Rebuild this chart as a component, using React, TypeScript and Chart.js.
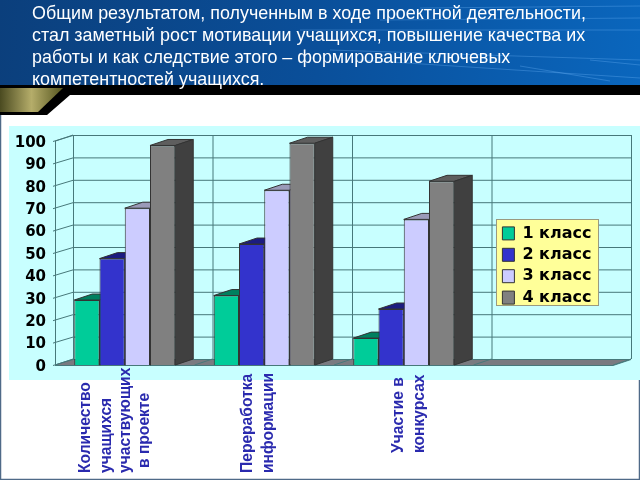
import React, { useEffect, useRef } from "react";
import { Chart, registerables } from "chart.js";

Chart.register(...registerables);

const headingLines = [
  "Общим результатом, полученным в ходе проектной деятельности,",
  "стал заметный рост мотивации учащихся, повышение качества их",
  "работы и как следствие этого – формирование ключевых",
  "компетентностей учащихся.",
];
const categories = [
  ["Количество", "учащихся", "участвующих", "в проекте"],
  ["Переработка", "информации"],
  ["Участие в", "конкурсах"],
  [""],
];
const seriesNames = ["1 класс", "2 класс", "3 класс", "4 класс"];
const class1 = [29, 31, 12, null];
const class2 = [47.5, 54, 25, null];
const class3 = [70, 78, 65, null];
const class4 = [98, 99, 82, null];

const front = ["#00cc99", "#3333cc", "#ccccff", "#808080"];
const topFace = ["#00805f", "#1c1c80", "#9a9ab8", "#5e5e5e"];
const sideFace = ["#00805f", "#1c1c80", "#8f8fb0", "#404040"];
const GRID = "#47787a";
const WALL = "#c8ffff";
const DX = 18;
const DY = 6;

// rotated axis text: [x offset from category centre, baseline start y] per line
const labelPlacement = [
  [[-39.5, 473], [-18, 473], [0.5, 473], [19.5, 468]],
  [[-17, 473], [4, 473]],
  [[-5.5, 453], [15.5, 453]],
  [[0, 473]],
];

function poly(ctx: CanvasRenderingContext2D, pts: number[][], fill?: any, stroke?: string) {
  ctx.beginPath();
  pts.forEach((p, i) => (i ? ctx.lineTo(p[0], p[1]) : ctx.moveTo(p[0], p[1])));
  ctx.closePath();
  if (fill) { ctx.fillStyle = fill; ctx.fill(); }
  if (stroke) { ctx.strokeStyle = stroke; ctx.lineWidth = 1; ctx.stroke(); }
}

const scenery = {
  id: "scenery",
  afterLayout(chart: any) {
    const t = chart.titleBlock;
    t.left = 32; t.right = 32 + t.width;
    const l = chart.legend;
    const w = 102, h = 200;
    l.left = 497; l.right = 497 + w; l.top = 220; l.bottom = 220 + h; l.width = w; l.height = h;
    // tick numerals sit slightly below their gridline in the reference
    const ys = chart.scales.y;
    if (!ys.__shifted) {
      ys.__shifted = true;
      const original = ys.drawLabels;
      ys.drawLabels = function (area: any) {
        chart.ctx.save();
        chart.ctx.translate(0, 2);
        original.call(ys, area);
        chart.ctx.restore();
      };
    }
  },
  beforeDraw(chart: any) {
    const { ctx, chartArea: a, scales } = chart;
    const W = 640, H = 480;
    ctx.save();
    ctx.fillStyle = "#ffffff";
    ctx.fillRect(0, 0, W, H);
    // banner
    const g = ctx.createLinearGradient(0, 0, W, 40);
    g.addColorStop(0, "#0b3f7c");
    g.addColorStop(0.5, "#0a4f9a");
    g.addColorStop(1, "#0a66bd");
    ctx.fillStyle = g;
    ctx.fillRect(0, 0, W, 86);
    ctx.strokeStyle = "rgba(120,190,255,0.3)";
    ctx.lineWidth = 1;
    [[300, 30, 640, 30], [330, 50, 640, 60], [360, 60, 640, 78], [420, 8, 640, 6], [380, 20, 640, 18], [520, 66, 610, 81], [590, 60, 640, 65]].forEach(([a1, b1, a2, b2]) => {
      ctx.beginPath(); ctx.moveTo(a1, b1); ctx.lineTo(a2, b2); ctx.stroke();
    });
    poly(ctx, [[0, 85], [640, 85], [640, 95], [70, 95], [47, 115], [0, 115]], "#000000");
    const gold = ctx.createLinearGradient(0, 0, 63, 0);
    gold.addColorStop(0, "#4a4a20");
    gold.addColorStop(0.5, "#b5ad6a");
    gold.addColorStop(1, "#55551f");
    poly(ctx, [[0, 88], [63, 88], [38, 112], [0, 112]], gold);
    // page frame
    ctx.strokeStyle = "#4f6a88";
    ctx.lineWidth = 1.5;
    ctx.beginPath();
    ctx.moveTo(0.5, 115); ctx.lineTo(0.5, 479.5); ctx.lineTo(639.5, 479.5); ctx.lineTo(639.5, 380);
    ctx.stroke();
    // panel
    ctx.fillStyle = WALL;
    ctx.fillRect(9, 126, 631, 254);

    // 3D box walls and grid
    const y = scales.y;
    const x0 = a.left, x1 = a.right, yb = y.getPixelForValue(0), yt = y.getPixelForValue(100);
    poly(ctx, [[x0, yb], [x1, yb], [x1 + DX, yb - DY], [x0 + DX, yb - DY]], "#7a7a80");
    y.ticks.forEach((tk: any) => {
      const p = y.getPixelForValue(tk.value);
      ctx.strokeStyle = GRID;
      ctx.lineWidth = 1;
      ctx.beginPath();
      ctx.moveTo(x0 - 2, p + 0.5);
      ctx.lineTo(x0 + DX, p - DY + 0.5);
      ctx.lineTo(x1 + DX, p - DY + 0.5);
      ctx.stroke();
    });
    const xs = scales.x;
    const catW = (x1 - x0) / categories.length;
    ctx.strokeStyle = GRID;
    for (let i = 0; i <= categories.length; i++) {
      const vx = i < categories.length ? xs.getPixelForValue(i) - catW / 2 : x1;
      ctx.beginPath();
      ctx.moveTo(vx + DX + 0.5, yb - DY);
      ctx.lineTo(vx + DX + 0.5, yt - DY);
      ctx.stroke();
      ctx.beginPath();
      ctx.moveTo(vx + DX, yb - DY);
      ctx.lineTo(vx, yb);
      ctx.stroke();
    }
    ctx.beginPath();
    ctx.moveTo(x0, yb + 0.5); ctx.lineTo(x1, yb + 0.5); ctx.lineTo(x1 + DX, yb - DY + 0.5);
    ctx.moveTo(x0 + 0.5, yb); ctx.lineTo(x0 + 0.5, yt);  ctx.lineTo(x0 + DX, yt - DY);
    ctx.stroke();
    // legend background
    ctx.fillStyle = "#ffff99";
    ctx.strokeStyle = "#9a9a80";
    ctx.fillRect(496, 219, 102, 86);
    ctx.strokeRect(496.5, 219.5, 102, 86);
    ctx.restore();
  },
  beforeDatasetsDraw(chart: any) {
    const { ctx } = chart;
    ctx.save();
    chart.data.datasets.forEach((_: any, di: number) => {
      chart.getDatasetMeta(di).data.forEach((b: any, i: number) => {
        if (chart.data.datasets[di].data[i] == null) return;
        const l = b.x - b.width / 2, r = b.x + b.width / 2;
        poly(ctx, [[l, b.y], [r, b.y], [r + DX, b.y - DY], [l + DX, b.y - DY]], topFace[di], "#333333");
        poly(ctx, [[r, b.y], [r + DX, b.y - DY], [r + DX, b.base - DY], [r, b.base]], sideFace[di], "#333333");
      });
    });
    ctx.restore();
  },
  afterDraw(chart: any) {
    const { ctx, scales } = chart;
    ctx.save();
    ctx.fillStyle = "#2a2aae";
    ctx.font = 'bold 15.6px "Liberation Sans", Arial, sans-serif';
    ctx.textAlign = "left";
    ctx.textBaseline = "middle";
    categories.forEach((lines, ci) => {
      const cx = scales.x.getPixelForValue(ci);
      lines.forEach((line, li) => {
        const [off, yy] = labelPlacement[ci][li];
        ctx.save();
        ctx.translate(cx + off, yy);
        ctx.rotate(-Math.PI / 2);
        ctx.fillText(line, 0, 0);
        ctx.restore();
      });
    });
    ctx.restore();
  },
};

export default function App() {
  const ref = useRef<HTMLCanvasElement>(null);
  useEffect(() => {
    const values = [class1, class2, class3, class4];
    const chart = new Chart(ref.current as HTMLCanvasElement, {
      type: "bar",
      data: {
        labels: categories as any,
        datasets: seriesNames.map((name, i) => ({
          label: name,
          data: values[i] as any,
          backgroundColor: front[i],
          borderColor: "#333333",
          borderWidth: 1,
          barPercentage: 1,
          categoryPercentage: 0.724,
        })),
      },
      options: {
        responsive: false,
        animation: false,
        devicePixelRatio: 1,
        layout: { padding: { left: 0, right: 27, bottom: 107, top: 0 } },
        scales: {
          x: {
            grid: { display: false },
            border: { display: false },
            ticks: { display: false },
          },
          y: {
            min: 0,
            max: 100,
            grid: { display: false },
            border: { display: false },
            afterFit: (s: any) => { s.width = 55; },
            ticks: {
              stepSize: 10,
              padding: 1,
              color: "#000000",
              font: { family: '"DejaVu Sans"', weight: "bold", size: 15 },
            },
          },
        },
        plugins: {
          tooltip: { enabled: false },
          title: {
            display: true,
            text: headingLines,
            align: "start",
            color: "#ffffff",
            padding: { top: 3.5, bottom: 49.5 },
            font: { family: '"Liberation Sans", Arial, sans-serif', size: 17.9, weight: "normal", lineHeight: 22 / 17.9 },
          },
          legend: {
            position: "chartArea",
            align: "start",
            labels: {
              boxWidth: 12,
              boxHeight: 13,
              padding: 5.4,
              color: "#000000",
              font: { family: '"DejaVu Sans"', weight: "bold", size: 16 },
            },
          },
        },
      },
      plugins: [scenery],
    } as any);
    return () => chart.destroy();
  }, []);
  return (
    <canvas
      ref={ref}
      width={640}
      height={480}
      style={{ position: "absolute", left: 0, top: 0, display: "block", width: 640, height: 480 }}
    />
  );
}
